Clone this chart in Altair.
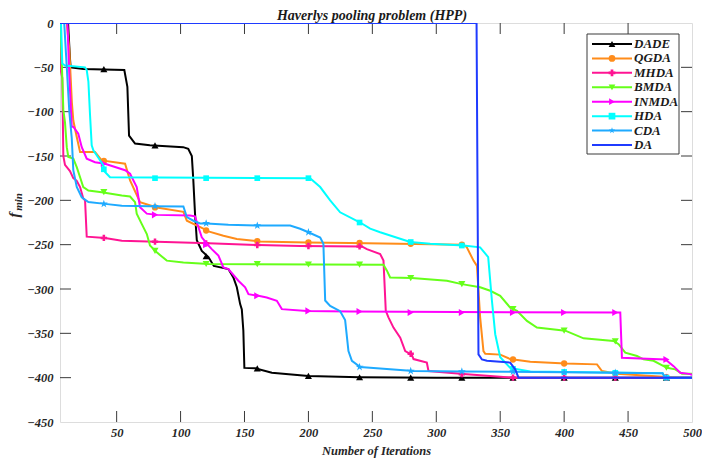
import altair as alt
import pandas as pd

names = ["DADE", "QGDA", "MHDA", "BMDA", "INMDA", "HDA", "CDA", "DA"]
colors = ["#000000", "#FF8C1A", "#FF1493", "#66FF1A", "#FF00FF", "#00FFFF", "#1EAAFF", "#1F3BFF"]
star = ("M0,-1L0.2245,-0.309L0.951,-0.309L0.3633,0.118L0.5878,0.809L0,0.382"
        "L-0.5878,0.809L-0.3633,0.118L-0.951,-0.309L-0.2245,-0.309Z")
shapes = ["triangle-up", "circle", "cross", "triangle-down", "triangle-right", "square", star]
shape_sizes = [50, 40, 40, 50, 50, 32, 70]

x_ticks = [50, 100, 150, 200, 250, 300, 350, 400, 450, 500]
y_ticks = [0, -50, -100, -150, -200, -250, -300, -350, -400, -450]
marker_it = [40, 80, 120, 160, 200, 240, 280, 320, 360, 400, 440, 480]

DADE_it = [1, 12, 13.5, 14, 24, 56, 58.4, 59.7, 64.4, 76, 102, 106, 108.8, 110, 111.3, 112.7, 116.6, 121.8, 126, 137.4,
           141.3, 144, 146.6, 147.9, 149.1, 149.9, 158.3, 171.4, 200, 240, 300, 500]
DADE_f = [0, 0, -40, -50, -52, -53, -72, -127, -136, -138, -140, -142, -150, -178, -215, -245, -257, -264, -274, -277.5,
          -287, -298, -317, -323, -347, -389, -389.5, -394.5, -398, -399.5, -400, -400]

QGDA_it = [1, 11, 13, 15, 16.1, 18.8, 21.4, 33.1, 38.3, 56.6, 60.5, 68.3, 81.4, 102.2, 104.9, 117.8, 121.8, 133.5, 144,
           160.9, 198.7, 232.6, 321.3, 323.9, 329.1, 331.8, 334.3, 336.9, 338.3, 350, 357.8, 373.5, 400.9, 425.7, 429.6,
           441.3, 477.6, 500]
QGDA_f = [0, 0, -30, -90, -110, -128.6, -145.6, -145.6, -155, -158.7, -177.6, -202, -208, -213, -223, -232, -235, -240,
          -243.6, -246.3, -247.5, -248, -250, -253, -268, -274, -332, -370, -373, -374, -379, -382, -384, -385, -392.5,
          -395.5, -399, -400]

MHDA_it = [1, 5.5, 6.5, 7.5, 8.3, 9.6, 13.5, 16.1, 18.8, 21.4, 23.9, 25.3, 26.6, 40.9, 54, 81.4, 121.8, 160.9, 193.5,
           241.8, 245.7, 256.1, 258.7, 260.5, 262.6, 266.5, 271.8, 275.7, 280.9, 282.2, 292.6, 293.9, 321.3, 360.4, 500]
MHDA_f = [-15, -16, -55, -62, -150, -160, -167, -175, -178, -185, -198, -200, -241, -242.4, -245.5, -246.6, -248.5,
          -250.4, -251.5, -252, -255, -260.5, -268, -324.7, -332, -343.5, -355, -370, -374.4, -379, -383, -392.5, -396,
          -400, -400]

BMDA_it = [1, 6, 7, 8.3, 9.6, 11, 12.2, 16.1, 18.8, 21.4, 23.9, 27.9, 38.3, 54, 60.5, 64.4, 65.7, 69.6, 73.6, 76.1,
           81.4, 89.2, 102.2, 121.8, 258.7, 261.3, 263.9, 280.9, 308.3, 320, 334.3, 342.2, 350, 357.8, 363.1, 370.9,
           378.7, 400.9, 415.2, 438.7, 442.6, 447.8, 457, 462.1, 469.9, 477.8, 480.5, 486.9, 492.2, 500]
BMDA_f = [0, 0, -40, -98, -112, -140, -151, -153, -162.5, -174, -185, -189, -190.8, -194.6, -195.7, -202, -215, -226.6,
          -238, -251, -258.7, -268, -270, -271.8, -272.6, -279, -287, -287.7, -290.7, -294.5, -298, -302, -307.7, -321,
          -324.7, -336, -343.5, -347, -355.6, -358.6, -362.3, -371.8, -375.6, -379.3, -381, -387, -388.8, -390.6,
          -395.5, -395.5]

INMDA_it = [1, 11.5, 13, 14.9, 16.1, 20, 22.7, 26.6, 33.1, 40.9, 56.6, 60.5, 65.7, 68.3, 73.6, 81.4, 107.4, 111.3,
            113.9, 116.6, 121.8, 124.4, 129.6, 133.5, 137.4, 145.2, 150.5, 153.1, 160.9, 167.4, 175.3, 179.2, 198.7,
            232.6, 443.9, 445.2, 479.2, 485.6, 490.8, 498.7, 500]
INMDA_f = [0, 0, -60, -117, -117, -124.8, -140, -153, -157, -158.7, -166, -170, -185, -207.8, -215, -216.4, -217, -218,
           -230, -241.7, -251, -255, -262.4, -275.7, -277.5, -290.7, -298, -305.8, -307.7, -309.6, -313.3, -322.7,
           -324.7, -325.4, -326.6, -377.5, -379.5, -387, -394.4, -396, -397]

HDA_it = [1, 6.5, 7.5, 9.6, 25.3, 26.6, 27.9, 29.2, 30.5, 31.8, 35.7, 39.6, 40.9, 44.8, 201.3, 209.2, 217, 224.8,
          240.5, 248.3, 256.1, 279.6, 295.2, 321.3, 334.3, 340.6, 343.5, 346.1, 350, 357.8, 373.5, 477, 479, 500]
HDA_f = [0, 0, -45.6, -48, -50, -53, -66, -104, -138, -143.7, -152, -160.6, -168, -174, -175, -185, -200, -213.5, -225,
         -232, -236, -247, -249, -251, -253, -264, -313, -351, -377, -389, -393, -395, -400, -400]

CDA_it = [1, 9, 11, 13, 14.9, 16.1, 18.8, 22.7, 27.9, 40.9, 54, 76.1, 102.2, 104.9, 110, 115.3, 120.5, 137.4, 160.9,
          185.7, 193.5, 200, 209.2, 211.7, 213.1, 217, 224.8, 228.7, 231.3, 234, 240.5, 282.2, 321.3, 400, 477, 479, 500]
CDA_f = [0, 0, -50, -100, -130, -166, -185, -196.5, -202, -204, -206, -206.6, -207, -219, -223, -226, -226, -227.5,
         -228.5, -228.5, -232, -236, -242, -249, -313, -319, -325, -335, -370, -381, -388, -392.5, -393, -394, -395,
         -400, -400]

DA_it = [1, 331.5, 333, 335.7, 339.6, 357.8, 361.7, 364.3, 500]
DA_f = [0, 0, -373.7, -379.5, -381, -383, -390.6, -400, -400]

DADE_mk = [-52, -138, -263, -389.5, -398, -399.5, -400, -400, -400, -400, -400, -400]
QGDA_mk = [-155.5, -208, -234, -246, -247.5, -248, -249, -250, -379.5, -384, -395.3, -399.5]
MHDA_mk = [-242.4, -246.6, -248.5, -250.4, -251.5, -252, -373, -396, -400, -400, -400, -400]
BMDA_mk = [-190.8, -257, -271.8, -272, -272.3, -272.5, -287.7, -294.5, -322.6, -347, -359, -388.8]
INMDA_mk = [-158.7, -216.4, -250, -307.7, -324.7, -325.4, -326.6, -326.6, -326.6, -326.6, -326.6, -379.5]
HDA_mk = [-165, -175, -175, -175, -175, -225, -247, -251, -390, -393.5, -394.5, -400]
CDA_mk = [-204, -206.6, -226, -228.5, -236, -388, -392.5, -393, -393.3, -394, -394.5, -400]

series_it = [DADE_it, QGDA_it, MHDA_it, BMDA_it, INMDA_it, HDA_it, CDA_it, DA_it]
series_f = [DADE_f, QGDA_f, MHDA_f, BMDA_f, INMDA_f, HDA_f, CDA_f, DA_f]
series_mk = [DADE_mk, QGDA_mk, MHDA_mk, BMDA_mk, INMDA_mk, HDA_mk, CDA_mk]

FONT = "Liberation Serif"
AX = "#3a3a3a"
W, H = 632, 399

xscale = alt.Scale(domain=[5.7, 500], nice=False, zero=False)
yscale = alt.Scale(domain=[-450, 0], nice=False, zero=False)

label_axis_x = alt.Axis(values=x_ticks, ticks=False, domain=False, grid=False, labelFont=FONT,
                        labelFontSize=12.5, labelFontStyle="italic", labelFontWeight="bold", labelColor="#262626",
                        labelPadding=4, labelFlush=False, labelOverlap=False,
                        title="Number of Iterations", titleFont=FONT, titleFontSize=12.5,
                        titleFontStyle="italic", titleFontWeight="bold", titleColor="#262626", titlePadding=6)
label_axis_y = alt.Axis(values=y_ticks, ticks=False, domain=False, grid=False, labelFont=FONT,
                        labelFontSize=12.5, labelFontStyle="italic", labelFontWeight="bold", labelColor="#262626",
                        labelPadding=7, labelFlush=False, labelOverlap=False, title=None)

layers = []

# axes carrier (invisible), drawn first so that its axes exist
axis_df = pd.DataFrame({"it": x_ticks, "f": [-450] * len(x_ticks)})
layers.append(alt.Chart(axis_df).mark_point(opacity=0).encode(
    x=alt.X("it:Q", scale=xscale, axis=label_axis_x),
    y=alt.Y("f:Q", scale=yscale, axis=label_axis_y)))

# inward tick marks (drawn under the data, as in the reference)
xt = pd.DataFrame({"t": x_ticks[:-1]})
yt = pd.DataFrame({"t": y_ticks[1:-1]})
for y0, y1 in [(H, H - 11), (0, 11)]:
    layers.append(alt.Chart(xt).mark_rule(color=AX, strokeWidth=1).encode(
        x=alt.X("t:Q", scale=xscale, axis=None), y=alt.value(y0), y2=alt.value(y1)))
for x0, x1 in [(0, 11), (W, W - 11)]:
    layers.append(alt.Chart(yt).mark_rule(color=AX, strokeWidth=1).encode(
        y=alt.Y("t:Q", scale=yscale, axis=None), x=alt.value(x0), x2=alt.value(x1)))

for i, nm in enumerate(names):
    df = pd.DataFrame({"it": series_it[i], "f": series_f[i]})
    layers.append(alt.Chart(df).mark_line(color=colors[i], strokeWidth=2, clip=True).encode(
        x=alt.X("it:Q", scale=xscale, axis=None),
        y=alt.Y("f:Q", scale=yscale, axis=None),
        order="it:Q"))
    if i < len(series_mk):
        dm = pd.DataFrame({"it": marker_it, "f": series_mk[i]})
        layers.append(alt.Chart(dm).mark_point(shape=shapes[i], size=shape_sizes[i], filled=True,
                                                color=colors[i], opacity=1, clip=True).encode(
            x=alt.X("it:Q", scale=xscale, axis=None),
            y=alt.Y("f:Q", scale=yscale, axis=None)))

# legend
leg = pd.DataFrame({"name": names, "row": list(range(len(names)))})
row_scale = alt.Scale(domain=[0, 7], range=[21, 122])
cscale = alt.Scale(domain=names, range=colors)
layers.append(alt.Chart(pd.DataFrame({"a": [0]})).mark_rect(fill="white", stroke=AX, strokeWidth=1).encode(
    x=alt.value(527), x2=alt.value(619), y=alt.value(11), y2=alt.value(131)))
layers.append(alt.Chart(leg).mark_rule(strokeWidth=2).encode(
    x=alt.value(532), x2=alt.value(572),
    y=alt.Y("row:Q", scale=row_scale, axis=None),
    color=alt.Color("name:N", scale=cscale, legend=None)))
leg_pts = leg[leg["name"] != "DA"]
layers.append(alt.Chart(leg_pts).mark_point(filled=True, opacity=1, size=45).encode(
    x=alt.value(552),
    y=alt.Y("row:Q", scale=row_scale, axis=None),
    color=alt.Color("name:N", scale=cscale, legend=None),
    shape=alt.Shape("name:N", scale=alt.Scale(domain=names[:7], range=shapes), legend=None)))
layers.append(alt.Chart(leg).mark_text(align="left", baseline="middle", font=FONT, fontSize=13,
                                       fontStyle="italic", fontWeight="bold", color="#1a1a1a").encode(
    x=alt.value(574),
    y=alt.Y("row:Q", scale=row_scale, axis=None),
    text="name:N"))

# title and y axis title f_min
one = pd.DataFrame({"a": [0]})
layers.append(alt.Chart(one).mark_text(text="Haverlys pooling problem (HPP)", font=FONT, fontSize=14,
                                       fontStyle="italic", fontWeight="bold", color="#1a1a1a",
                                       baseline="alphabetic", align="center").encode(
    x=alt.value(W / 2 - 4), y=alt.value(-3)))
layers.append(alt.Chart(one).mark_text(text="f", angle=270, font=FONT, fontSize=15, fontStyle="italic",
                                       fontWeight="bold", color="#262626", baseline="middle", align="center").encode(
    x=alt.value(-46), y=alt.value(192)))
layers.append(alt.Chart(one).mark_text(text="min", angle=270, font=FONT, fontSize=11, fontStyle="italic",
                                       fontWeight="bold", color="#262626", baseline="middle", align="center").encode(
    x=alt.value(-41), y=alt.value(179)))

chart = alt.layer(*layers).resolve_scale(x="independent", y="independent").properties(
    width=W, height=H,
    padding={"left": 60, "top": 23, "right": 10, "bottom": 42},
    autosize=alt.AutoSizeParams(type="none"),
).configure_view(stroke=AX, strokeWidth=1).configure(background="white")

chart.save("out.html", embed_options={"renderer": "svg", "actions": False})
